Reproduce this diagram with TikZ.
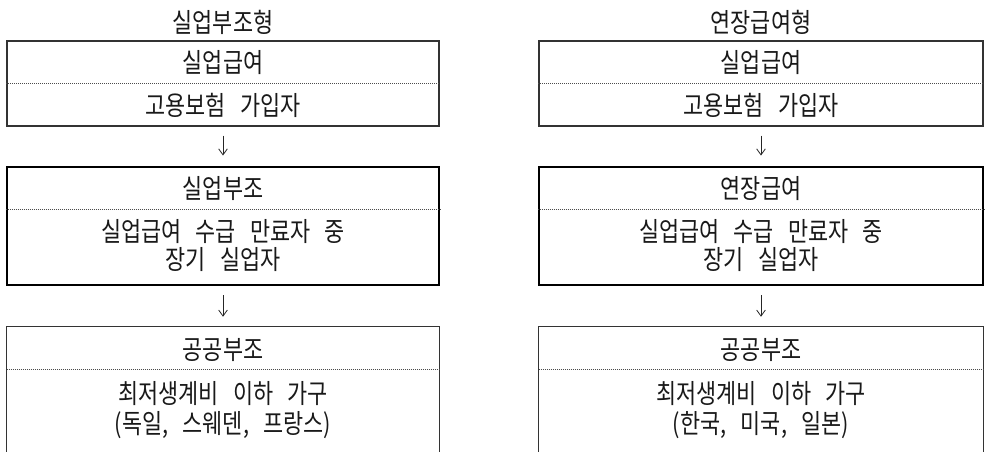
\documentclass[tikz,border=0pt]{standalone}
\usepackage{fontspec}
\setmainfont{Noto Sans CJK KR}[FakeStretch=0.82,WordSpace=2.9]
\usetikzlibrary{arrows.meta}
\tikzset{
  px/.style={x=0.75pt,y=-0.75pt},
  txt/.style={inner sep=0pt,text=black!90,font=\fontsize{20pt}{23pt}\selectfont,align=center},
  thinbox/.style={draw=black!80,line width=0.8pt,inner sep=0pt},
  thickbox/.style={draw=black,line width=2.2pt,inner sep=0pt},
  openbox/.style={inner sep=0pt},
  sep/.style={draw=black!70,line width=0.6pt,dotted,dash pattern=on 0.6pt off 0.9pt},
  arr/.style={draw=black!85,line width=0.6pt,-{Straight Barb[length=4.5pt,width=6.5pt]},shorten <=6.75pt,shorten >=7.5pt}
}
\begin{document}
\begin{tikzpicture}[px]
\useasboundingbox (0,0) rectangle (986,452);
% titles
\node[txt] (lt) at (223,22) {실업부조형};
\node[txt] (rt) at (761,22) {연장급여형};
% top boxes
\node[thinbox,minimum width=324pt,minimum height=63.75pt] (la) at (223,83.5) {};
\node[thinbox,minimum width=333pt,minimum height=63.75pt] (ra) at (761,83.5) {};
% middle boxes
\node[thickbox,minimum width=324pt,minimum height=88.5pt] (lb) at (223,226) {};
\node[thickbox,minimum width=333pt,minimum height=88.5pt] (rb) at (761,226) {};
% bottom boxes (open at the bottom)
\node[openbox,minimum width=324pt,minimum height=93.75pt] (lc) at (223,389.5) {};
\node[openbox,minimum width=333pt,minimum height=93.75pt] (rc) at (761,389.5) {};
\draw[thinbox] (lc.south west) -- (lc.north west) -- (lc.north east) -- (lc.south east);
\draw[thinbox] (rc.south west) -- (rc.north west) -- (rc.north east) -- (rc.south east);
% dotted separators
\draw[sep] (la.west |- 0,83) -- (la.east |- 0,83);
\draw[sep] (ra.west |- 0,83) -- (ra.east |- 0,83);
\draw[sep] (lb.west |- 0,209) -- (lb.east |- 0,209);
\draw[sep] (rb.west |- 0,209) -- (rb.east |- 0,209);
\draw[sep] (lc.west |- 0,369) -- (lc.east |- 0,369);
\draw[sep] (rc.west |- 0,369) -- (rc.east |- 0,369);
% texts
\node[txt] (la1) at (223,63) {실업급여};
\node[txt] (la2) at (223,105) {고용보험 가입자};
\node[txt] (ra1) at (761,63) {실업급여};
\node[txt] (ra2) at (761,105) {고용보험 가입자};
\node[txt] (lb1) at (223,189) {실업부조};
\node[txt] (lb2) at (223,232) {실업급여 수급 만료자 중};
\node[txt] (lb3) at (223,260) {장기 실업자};
\node[txt] (rb1) at (761,189) {연장급여};
\node[txt] (rb2) at (761,232) {실업급여 수급 만료자 중};
\node[txt] (rb3) at (761,260) {장기 실업자};
\node[txt] (lc1) at (223,350) {공공부조};
\node[txt] (lc2) at (223,394) {최저생계비 이하 가구};
\node[txt] (lc3) at (223,425) {(독일, 스웨덴, 프랑스)};
\node[txt] (rc1) at (761,350) {공공부조};
\node[txt] (rc2) at (761,394) {최저생계비 이하 가구};
\node[txt] (rc3) at (761,425) {(한국, 미국, 일본)};
% arrows
\draw[arr] (la.south) -- (lb.north);
\draw[arr] (lb.south) -- (lc.north);
\draw[arr] (ra.south) -- (rb.north);
\draw[arr] (rb.south) -- (rc.north);
\end{tikzpicture}
\end{document}
